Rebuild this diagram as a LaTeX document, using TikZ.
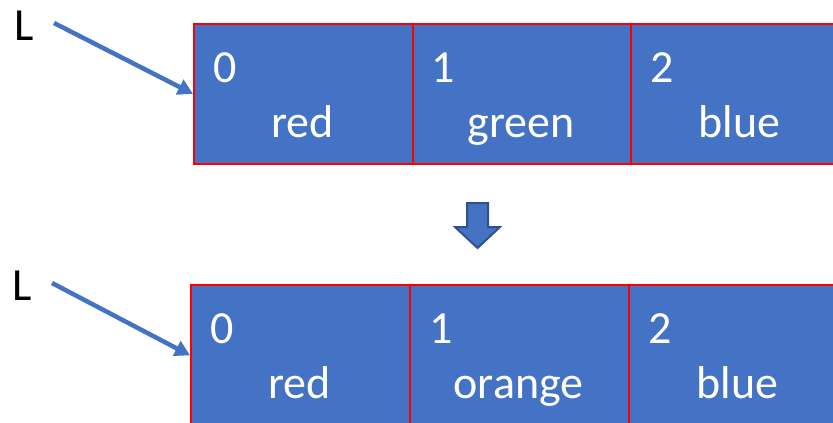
\documentclass[tikz,border=0pt]{standalone}
\usepackage{fontspec}
\setmainfont{Carlito}
\usetikzlibrary{arrows.meta}
\definecolor{cellblue}{HTML}{4472C4}
\definecolor{cellborder}{HTML}{FF0000}
\definecolor{arrowedge}{HTML}{2F528F}
\tikzset{
  cell/.style={draw=cellborder, line width=2.2pt, fill=cellblue, rectangle,
    minimum width=219pt, minimum height=140.5pt, inner sep=0pt, anchor=north west},
  idx/.style={text=white, font=\fontsize{46}{46}\selectfont, inner sep=0pt, anchor=base west},
  val/.style={text=white, font=\fontsize{46}{46}\selectfont, inner sep=0pt, anchor=base},
  lbl/.style={text=black, font=\fontsize{46}{46}\selectfont, inner sep=0pt, anchor=base west},
  pointer/.style={draw=cellblue, line width=4.5pt, -{Triangle[length=15pt,width=16pt]}},
}
\begin{document}
\begin{tikzpicture}[x=1pt, y=-1pt]
\useasboundingbox (0,0) rectangle (833,423);
\clip (0,0) rectangle (833,423);

% list before the change
\node[cell] (a0) at (193,22.5) {};
\node[cell] (a1) at (412,22.5) {};
\node[cell] (a2) at (630,22.5) {};
\node[idx] at (213,82) {0};
\node[idx] at (431,82) {1};
\node[idx] at (650,82) {2};
\node[val] at (302.5,137) {red};
\node[val] at (521,137) {green};
\node[val] at (739.5,137) {blue};
\node[lbl] (la) at (14,40) {L};
\coordinate (las) at (54,23);
\draw[pointer] (las) -- (a0.west);

% transition arrow
\filldraw[fill=cellblue, draw=arrowedge, line width=2pt]
  (467,203) -- (488,203) -- (488,227) -- (500,227) -- (477.5,248)
  -- (455,227) -- (467,227) -- cycle;

% list after the change
\node[cell] (b0) at (190,284) {};
\node[cell] (b1) at (409,284) {};
\node[cell] (b2) at (628,284) {};
\node[idx] at (210,343) {0};
\node[idx] at (429,343) {1};
\node[idx] at (648,343) {2};
\node[val] at (299.5,398) {red};
\node[val] at (518.5,398) {orange};
\node[val] at (737.5,398) {blue};
\node[lbl] (lb) at (12,300) {L};
\coordinate (lbs) at (52,283);
\draw[pointer] (lbs) -- (b0.west);
\end{tikzpicture}
\end{document}
